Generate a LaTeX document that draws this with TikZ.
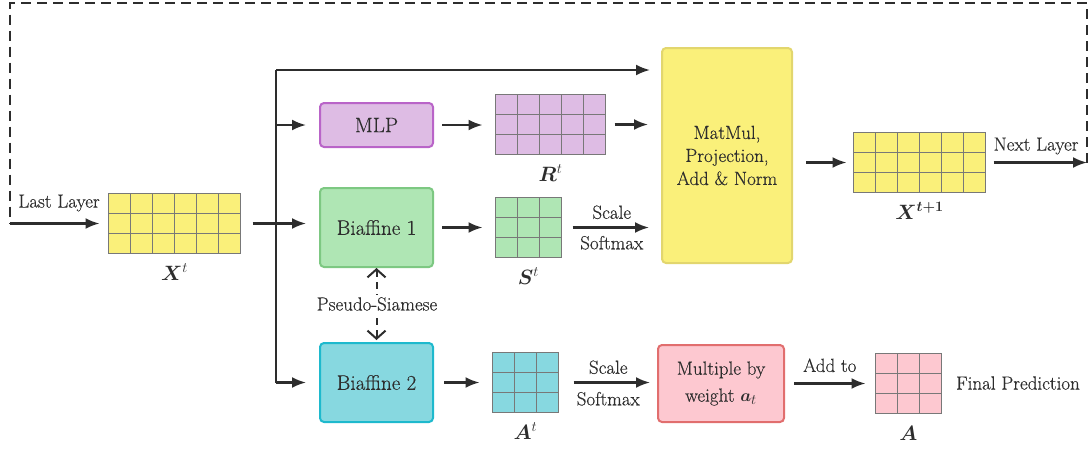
\documentclass[tikz,border=0pt]{standalone}
\usepackage{fontspec}
\usepackage{bm}
\usetikzlibrary{arrows.meta,calc}

% slightly heavier serif for all labels
\setmainfont{Latin Modern Roman}[FakeBold=0.35]

\definecolor{ink}{RGB}{45,45,45}
\definecolor{gridgray}{RGB}{120,120,120}
\definecolor{yelfill}{RGB}{250,240,122}
\definecolor{yelline}{RGB}{226,214,110}
\definecolor{purfill}{RGB}{222,188,228}
\definecolor{purline}{RGB}{185,100,200}
\definecolor{grnfill}{RGB}{175,230,180}
\definecolor{grnline}{RGB}{125,200,130}
\definecolor{cyafill}{RGB}{135,216,224}
\definecolor{cyaline}{RGB}{30,185,205}
\definecolor{pnkfill}{RGB}{253,200,208}
\definecolor{pnkline}{RGB}{225,110,110}

% matrix drawn as a grid of cells: name, x, y, columns, rows, width, height, fill
\newcommand{\matgrid}[8]{%
  \node[gridbox, fill=#8, minimum width=#6pt, minimum height=#7pt] (#1) at (#2,#3) {};
  \pgfmathtruncatemacro\ncols{#4-1}%
  \pgfmathtruncatemacro\nrows{#5-1}%
  \foreach \k in {1,...,\ncols}
    \draw[gridline] ($(#1.north west)!{\k/#4}!(#1.north east)$) -- ($(#1.south west)!{\k/#4}!(#1.south east)$);
  \foreach \k in {1,...,\nrows}
    \draw[gridline] ($(#1.north west)!{\k/#5}!(#1.south west)$) -- ($(#1.north east)!{\k/#5}!(#1.south east)$);
}

\tikzset{
  txt/.style={text=ink, font=\fontsize{19}{22}\selectfont},
  lab/.style={text=ink, font=\fontsize{22}{24}\selectfont, anchor=base},
  gridbox/.style={draw=gridgray, line width=1.5pt, inner sep=0pt, outer sep=0pt},
  gridline/.style={draw=gridgray, line width=1.5pt},
  block/.style={rounded corners=4pt, line width=2pt, inner sep=0pt, outer sep=0pt,
    text=ink, align=center},
  arr/.style={draw=ink, line width=2.2pt, -{Latex[length=14pt,width=11pt]}},
  plain/.style={draw=ink, line width=2.2pt},
  dashline/.style={draw=ink, line width=2pt, dash pattern=on 10pt off 6pt},
  twin/.style={draw=ink, line width=2pt, dash pattern=on 7pt off 5pt,
    {Straight Barb[length=8pt,width=18pt]}-{Straight Barb[length=8pt,width=18pt]}},
}

\begin{document}
\begin{tikzpicture}[x=1pt,y=-1pt]
\useasboundingbox (0,0) rectangle (1092,448);

% processing blocks
\node[block, draw=purline, fill=purfill, minimum width=113pt, minimum height=44pt,
  font=\fontsize{21}{24}\selectfont] (mlp) at (376.5,125) {MLP};
\node[block, draw=grnline, fill=grnfill, minimum width=113pt, minimum height=79pt,
  font=\fontsize{21}{24}\selectfont] (bi1) at (376.5,227.5) {Biaffine 1};
\node[block, draw=cyaline, fill=cyafill, minimum width=113pt, minimum height=79pt,
  font=\fontsize{21}{24}\selectfont] (bi2) at (376.5,382.5) {Biaffine 2};
\node[block, draw=yelline, fill=yelfill, minimum width=130pt, minimum height=215pt,
  font=\fontsize{19}{23}\selectfont] (mm) at (727,155.5) {MatMul,\\Projection,\\Add \& Norm};
\node[block, draw=pnkline, fill=pnkfill, minimum width=126pt, minimum height=77pt,
  font=\fontsize{19}{27}\selectfont] (mul) at (721,383.5) {Multiple by\\weight $\bm{a}_t$};

% matrices (22 x 20 cells)
\matgrid{xt}{174.5}{223.5}{6}{3}{132}{60}{yelfill}
\matgrid{rt}{550.5}{124.5}{5}{3}{110}{60}{purfill}
\matgrid{st}{528.5}{227.5}{3}{3}{66}{60}{grnfill}
\matgrid{at}{525.5}{382.5}{3}{3}{66}{60}{cyafill}
\matgrid{xn}{919.5}{162.5}{6}{3}{132}{60}{yelfill}
\matgrid{af}{908.5}{383.5}{3}{3}{66}{60}{pnkfill}

% matrix symbols
\node[lab] (lxt) at ([yshift=-27pt]xt.south) {$\bm{X}^t$};
\node[lab] (lrt) at ([yshift=-27pt]rt.south) {$\bm{R}^t$};
\node[lab] (lst) at ([yshift=-27pt]st.south) {$\bm{S}^t$};
\node[lab] (lat) at ([yshift=-27pt]at.south) {$\bm{A}^t$};
\node[lab] (lxn) at ([yshift=-27pt]xn.south) {$\bm{X}^{\bm{t+1}}$};
\node[lab] (laf) at ([yshift=-27pt]af.south) {$\bm{A}$};

% loop from the next layer back to the input
\coordinate (ll) at (10,223.5);
\coordinate (tl) at (10,3);
\coordinate (tr) at (1087,3);
\coordinate (nl) at (1087,162.5);
\draw[dashline] (nl) -- (tr) -- (tl) -- (ll);
\draw[arr, shorten >=9pt] (ll) -- (xt.west);
\node[txt] (lastl) at (59,203) {Last Layer};
\draw[arr, shorten <=8pt] (xn.east) -- (nl);
\node[txt] (nextl) at (1036,146) {Next Layer};

% fan-out bus
\coordinate (bt) at (276,70);
\draw[plain] (bt) -- (bt |- bi2.west);
\draw[arr, shorten >=12pt] (bt) -- (bt -| mm.west);
\draw[arr, shorten >=14pt] (bt |- mlp.west) -- (mlp.west);
\draw[arr, shorten <=12pt, shorten >=14pt] (xt.east) -- (xt.east -| bi1.west);
\draw[arr, shorten >=14pt] (bt |- bi2.west) -- (bi2.west);

% top and middle rows
\draw[arr, shorten <=9pt, shorten >=13pt] (mlp.east) -- (mlp.east -| rt.west);
\draw[arr, shorten <=9pt, shorten >=14pt] (rt.east) -- (rt.east -| mm.west);
\draw[arr, shorten <=9pt, shorten >=13pt] (bi1.east) -- (bi1.east -| st.west);
\draw[arr, shorten <=11pt, shorten >=13pt] (st.east) -- (st.east -| mm.west)
  node[txt, midway, above=4pt] (sc1) {Scale}
  node[txt, midway, below=4pt] (sm1) {Softmax};
\draw[arr, shorten <=14pt, shorten >=7pt] (mm.east |- xn.west) -- (xn.west);

% bottom row
\draw[arr, shorten <=11pt, shorten >=13pt] (bi2.east) -- (bi2.east -| at.west);
\draw[arr, shorten <=15pt, shorten >=8pt] (at.east) -- (at.east -| mul.west)
  node[txt, midway, above=4pt] (sc2) {Scale}
  node[txt, midway, below=5pt] (sm2) {Softmax};
\draw[arr, shorten <=10pt, shorten >=10pt] (mul.east |- af.west) -- (af.west)
  node[txt, midway, above=7pt] (addto) {Add to};
\node[txt] (final) at (1018,383) {Final Prediction};

% shared structure between the two biaffine scorers
\draw[twin, shorten <=1pt, shorten >=3pt] (bi1.south) -- (bi2.north);
\node[txt, fill=white, inner sep=2pt] (ps) at (377,304) {Pseudo-Siamese};

\end{tikzpicture}
\end{document}
